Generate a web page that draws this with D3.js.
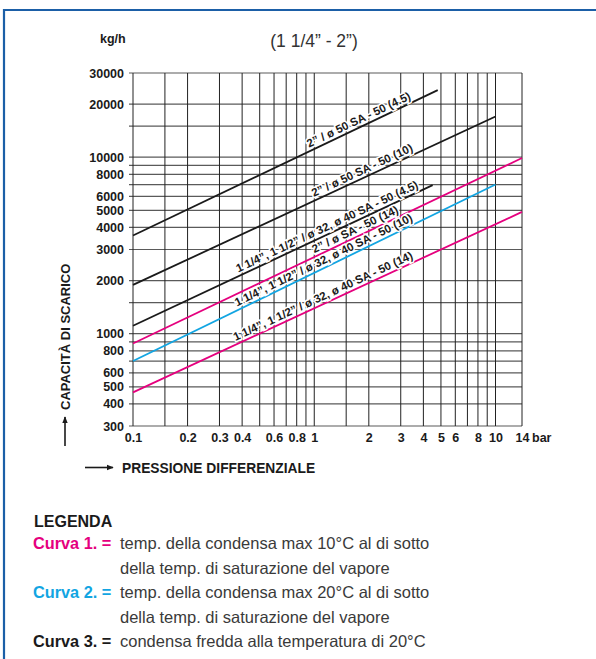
<!DOCTYPE html>
<meta charset="utf-8">
<script src="https://d3js.org/d3.v7.min.js"></script>
<style>
  body { margin: 0; background: #fff; }
  text { font-family: "Liberation Sans", Arial, Helvetica, sans-serif; }
</style>
<div id="chart"></div>
<script>

// axis ticks and grid
const xTicks = [0.1, 0.2, 0.3, 0.4, 0.6, 0.8, 1, 2, 3, 4, 5, 6, 8, 10, 14];
const yTicks = [300, 400, 500, 600, 800, 1000, 2000, 3000, 4000, 5000, 6000, 8000, 10000, 20000, 30000];
const xGrid = [0.1, 0.15, 0.2, 0.3, 0.4, 0.5, 0.6, 0.7, 0.8, 0.9, 1, 1.5, 2, 3, 4, 5, 6, 7, 8, 9, 10, 14];
const yGrid = [300, 400, 500, 600, 700, 800, 900, 1000, 1500, 2000, 3000, 4000, 5000, 6000, 7000, 8000, 9000, 10000, 15000, 20000, 30000];

// curves (straight lines on log-log paper)
const curveNames = [
  "2\u201D / ø 50 SA - 50 (4.5)",
  "2\u201D / ø 50 SA - 50 (10)",
  "1 1/4\u201D, 1 1/2\u201D / ø 32, ø 40 SA - 50 (4.5)",
  "2\u201D / ø SA - 50 (14)",
  "1 1/4\u201D, 1 1/2\u201D / ø 32, ø 40 SA - 50 (10)",
  "1 1/4\u201D, 1 1/2\u201D / ø 32, ø 40 SA - 50 (14)"
];
const curveFrom = [0.1, 0.1, 0.1, 0.1, 0.1, 0.1];
const curveTo = [4.8, 10, 4.5, 14, 10, 14];
const valueFrom = [3600, 1890, 1110, 880, 700, 465];
const valueTo = [24000, 17000, 6950, 9900, 7000, 4900];
const curveType = [3, 3, 3, 1, 2, 1];
const labelEnd = [3.5, 3.6, 3.85, 3.0, 3.6, 3.6];

// legend
const legendKeys = ["Curva 1. =", "Curva 2. =", "Curva 3. ="];
const legendText = [
  ["temp. della condensa max 10°C al di sotto", "della temp. di saturazione del vapore"],
  ["temp. della condensa max 20°C al di sotto", "della temp. di saturazione del vapore"],
  ["condensa fredda alla temperatura di 20°C"]
];

const typeColor = {1: "#e5007e", 2: "#12a5e2", 3: "#1a1a1a"};

const W = 596, H = 659;
const svg = d3.select("#chart").append("svg")
  .attr("width", W).attr("height", H);

// blue frame
svg.append("path")
  .attr("d", "M4,659 L4,10 L596,10")
  .attr("fill", "none")
  .attr("stroke", "#1b5fa7")
  .attr("stroke-width", 2.2);

const x = d3.scaleLog().domain([0.1, 14]).range([133, 522]);
const y = d3.scaleLog().domain([300, 30000]).range([426, 73]);

// grid
svg.append("g").selectAll("line").data(yGrid).join("line")
  .attr("x1", 129).attr("x2", x(14))
  .attr("y1", d => y(d)).attr("y2", d => y(d))
  .attr("stroke", "#5a5a5a").attr("stroke-width", 1.2);

svg.append("g").selectAll("line").data(xGrid).join("line")
  .attr("x1", d => x(d)).attr("x2", d => x(d))
  .attr("y1", y(30000)).attr("y2", y(300))
  .attr("stroke", "#222").attr("stroke-width", 1);

// axes (labels only, grid is drawn above)
const yAxis = svg.append("g")
  .attr("transform", `translate(${x(0.1) - 4},0)`)
  .call(d3.axisLeft(y).tickValues(yTicks).tickFormat(d3.format("d")).tickSize(0).tickPadding(5));
yAxis.select(".domain").remove();
yAxis.selectAll("text")
  .attr("font-size", 12.5).attr("font-weight", "bold").attr("fill", "#1a1a1a")
  .attr("font-family", "Liberation Sans, Arial, sans-serif");

const xAxis = svg.append("g")
  .attr("transform", `translate(0,${y(300)})`)
  .call(d3.axisBottom(x).tickValues(xTicks).tickFormat(d => String(d)).tickSize(0).tickPadding(7));
xAxis.select(".domain").remove();
xAxis.selectAll("text")
  .attr("font-size", 12.5).attr("font-weight", "bold").attr("fill", "#1a1a1a")
  .attr("font-family", "Liberation Sans, Arial, sans-serif");

svg.append("text")
  .attr("x", x(14) + 10).attr("y", y(300) + 7)
  .attr("dy", "0.71em")
  .attr("font-size", 12.5).attr("font-weight", "bold").attr("fill", "#1a1a1a")
  .text("bar");

// curves
const curves = curveNames.map((name, i) => ({
  name, type: curveType[i],
  p0: [curveFrom[i], valueFrom[i]],
  p1: [curveTo[i], valueTo[i]],
  lab: labelEnd[i]
}));

svg.append("g").selectAll("line").data(curves).join("line")
  .attr("x1", d => x(d.p0[0])).attr("y1", d => y(d.p0[1]))
  .attr("x2", d => x(d.p1[0])).attr("y2", d => y(d.p1[1]))
  .attr("stroke", d => typeColor[d.type])
  .attr("stroke-width", 1.8);

function valueAt(d, p) {
  const t = (Math.log(p) - Math.log(d.p0[0])) / (Math.log(d.p1[0]) - Math.log(d.p0[0]));
  return Math.exp(Math.log(d.p0[1]) + t * (Math.log(d.p1[1]) - Math.log(d.p0[1])));
}

svg.append("g").selectAll("text").data(curves).join("text")
  .attr("transform", d => {
    const ang = Math.atan2(y(d.p1[1]) - y(d.p0[1]), x(d.p1[0]) - x(d.p0[0])) * 180 / Math.PI;
    return `translate(${x(d.lab)},${y(valueAt(d, d.lab))}) rotate(${ang})`;
  })
  .attr("dy", -3.5)
  .attr("text-anchor", "end")
  .attr("font-size", 11.5)
  .attr("font-weight", "bold")
  .attr("fill", "#1a1a1a")
  .attr("stroke", "#fff").attr("stroke-width", 3).attr("paint-order", "stroke")
  .text(d => d.name);

// titles
svg.append("text")
  .attr("x", 100).attr("y", 43)
  .attr("font-size", 12.5).attr("font-weight", "bold").attr("fill", "#1a1a1a")
  .text("kg/h");

svg.append("text")
  .attr("x", 314).attr("y", 47).attr("text-anchor", "middle")
  .attr("font-size", 17.5).attr("fill", "#333")
  .text("(1 1/4\u201D - 2\u201D)");

// arrows
const defs = svg.append("defs");
defs.append("marker")
  .attr("id", "head").attr("viewBox", "0 0 10 10")
  .attr("refX", 9).attr("refY", 5)
  .attr("markerWidth", 7).attr("markerHeight", 7)
  .attr("markerUnits", "userSpaceOnUse")
  .attr("orient", "auto")
  .append("path").attr("d", "M0,1 L10,5 L0,9 Z").attr("fill", "#1a1a1a");

svg.append("line")
  .attr("x1", 65).attr("y1", 446).attr("x2", 65).attr("y2", 417)
  .attr("stroke", "#1a1a1a").attr("stroke-width", 1.6)
  .attr("marker-end", "url(#head)");

svg.append("text")
  .attr("transform", "translate(70,410) rotate(-90)")
  .attr("font-size", 13).attr("font-weight", "bold").attr("fill", "#1a1a1a")
  .text("CAPACITÀ DI SCARICO");

svg.append("line")
  .attr("x1", 85).attr("y1", 467.5).attr("x2", 113).attr("y2", 467.5)
  .attr("stroke", "#1a1a1a").attr("stroke-width", 1.6)
  .attr("marker-end", "url(#head)");

svg.append("text")
  .attr("x", 122).attr("y", 472.5)
  .attr("font-size", 13.8).attr("font-weight", "bold").attr("fill", "#1a1a1a")
  .text("PRESSIONE DIFFERENZIALE");

// legend
svg.append("text")
  .attr("x", 34).attr("y", 527)
  .attr("font-size", 16).attr("font-weight", "bold").attr("fill", "#1a1a1a")
  .text("LEGENDA");

let row = 0;
legendKeys.forEach((k, i) => {
  const by = 549 + row * 24.5;
  svg.append("text")
    .attr("x", 33).attr("y", by)
    .attr("font-size", 16.3).attr("font-weight", "bold")
    .attr("fill", typeColor[i + 1])
    .text(k);
  legendText[i].forEach((t, j) => {
    svg.append("text")
      .attr("x", 120).attr("y", by + j * 24.5)
      .attr("font-size", 16.5).attr("fill", "#3a3a3a")
      .text(t);
  });
  row += legendText[i].length;
});

</script>
